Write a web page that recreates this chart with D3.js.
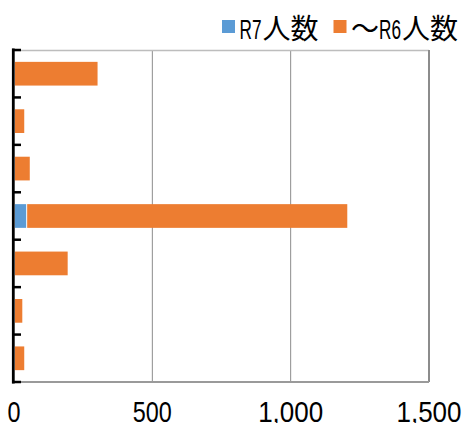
<!DOCTYPE html>
<html>
<head>
<meta charset="utf-8">
<script src="https://cdn.jsdelivr.net/npm/d3@7/dist/d3.min.js"></script>
<style>
  html, body { margin: 0; padding: 0; background: #fff; }
  svg { display: block; }
</style>
</head>
<body>
<svg id="chart" width="464" height="423"></svg>
<script>
// ---- data ----
const categories = ["1", "2", "3", "4", "5", "6", "7"];
const r7Values = [0, 0, 0, 44, 0, 0, 0];
const r6Values = [302, 37, 57, 1157, 194, 30, 37];
const seriesNames = ["R7人数", "～R6人数"];
const xTicks = [0, 500, 1000, 1500];

// ---- layout ----
const W = 464, H = 423;
const margin = { top: 50, right: 35, bottom: 41, left: 14 };
const colors = ["#5B9BD5", "#ED7D31"];

const svg = d3.select("#chart");
const table = categories.map((c, i) => ({ cat: c, r7: r7Values[i], r6: r6Values[i] }));
const stack = d3.stack().keys(["r7", "r6"])(table);

const x = d3.scaleLinear().domain([0, 1500]).range([margin.left, W - margin.right]);
const y = d3.scaleBand().domain(categories).range([margin.top, H - margin.bottom]).paddingInner(0.5).paddingOuter(0.25);

// gridlines
svg.append("g").selectAll("line").data([500, 1000]).join("line")
  .attr("x1", d => x(d)).attr("x2", d => x(d))
  .attr("y1", margin.top).attr("y2", H - margin.bottom)
  .attr("stroke", "#8c8c8c").attr("stroke-width", 1);

// plot border: top (light), right and bottom (gray)
svg.append("line").attr("x1", margin.left).attr("x2", x(1500))
  .attr("y1", margin.top + 0.5).attr("y2", margin.top + 0.5)
  .attr("stroke", "#bdbdbd").attr("stroke-width", 1.5);
svg.append("line").attr("x1", x(1500)).attr("x2", x(1500))
  .attr("y1", margin.top).attr("y2", H - margin.bottom)
  .attr("stroke", "#8c8c8c").attr("stroke-width", 2);
svg.append("line").attr("x1", margin.left).attr("x2", x(1500))
  .attr("y1", H - margin.bottom).attr("y2", H - margin.bottom)
  .attr("stroke", "#9a9a9a").attr("stroke-width", 2);

// bars
svg.append("g").selectAll("g").data(stack).join("g")
  .attr("fill", (d, i) => colors[i])
  .selectAll("rect").data(d => d).join("rect")
  .attr("x", d => x(d[0]) + 1)
  .attr("width", d => Math.max(0, x(d[1]) - x(d[0]) - (d[0] === 0 ? 1 : 0)))
  .attr("y", (d, i) => y(categories[i]))
  .attr("height", y.bandwidth());

// y axis (black, inner ticks at band boundaries)
const yTickPos = categories.map(c => y(c) - y.step() * y.paddingInner() / 2);
yTickPos[0] = margin.top;
yTickPos.push(H - margin.bottom);
const yAxisG = svg.append("g");
yAxisG.append("line").attr("x1", 13.3).attr("x2", 13.3)
  .attr("y1", margin.top - 1.5).attr("y2", H - margin.bottom + 1.5)
  .attr("stroke", "#000").attr("stroke-width", 2.8);
yAxisG.selectAll("line.t").data(yTickPos).join("line").attr("class", "t")
  .attr("x1", 12).attr("x2", 21)
  .attr("y1", d => d).attr("y2", d => d)
  .attr("stroke", "#000").attr("stroke-width", 2.5);

// x tick labels
const fmt = d3.format(",");
svg.append("g").selectAll("text").data(xTicks).join("text")
  .attr("x", d => x(d))
  .attr("y", 422)
  .attr("text-anchor", "middle")
  .attr("font-family", "'Liberation Sans', 'DejaVu Sans', sans-serif")
  .attr("font-size", 30)
  .attr("fill", "#000")
  .attr("textLength", d => fmt(d).length * 13)
  .attr("lengthAdjust", "spacingAndGlyphs")
  .text(d => fmt(d));

// legend
function legendItem(sx, parts, color) {
  const g = svg.append("g");
  g.append("rect").attr("x", sx).attr("y", 20).attr("width", 13).attr("height", 13).attr("fill", color);
  let cx = sx + 17.5;
  parts.forEach(p => {
    const t = g.append("text").attr("x", cx).attr("y", 38.5)
      .attr("font-size", 28).attr("fill", "#000").text(p.s);
    if (p.w) {
      t.attr("font-family", "'Liberation Sans', sans-serif")
       .attr("textLength", p.w).attr("lengthAdjust", "spacingAndGlyphs");
      cx += p.w + 1;
    } else {
      t.attr("font-family", "'Noto Sans CJK JP', sans-serif");
      cx += t.node().getComputedTextLength();
    }
  });
}
legendItem(222, [{ s: "R7", w: 22 }, { s: "人数" }], colors[0]);
legendItem(333.5, [{ s: "～" }, { s: "R6", w: 22 }, { s: "人数" }], colors[1]);
</script>
</body>
</html>
